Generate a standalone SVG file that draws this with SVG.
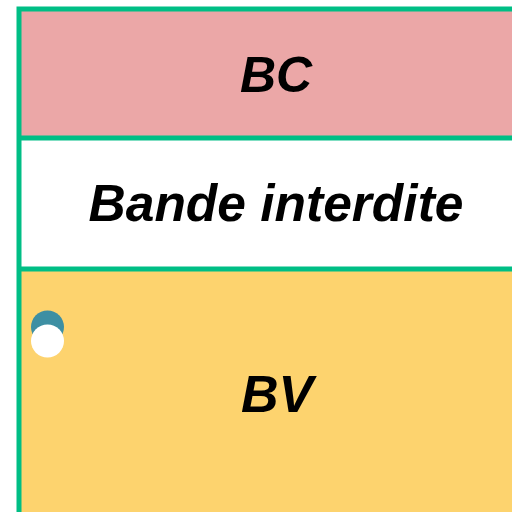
<svg xmlns="http://www.w3.org/2000/svg" width="512" height="512" viewBox="0 0 512 512">
<style>
.lbl{font-family:"Liberation Sans",Arial,sans-serif;font-weight:bold;font-style:italic;font-size:50px;fill:#000;text-anchor:middle}
.edge{stroke:#00BE85;stroke-width:5;fill:none}
</style>
<rect width="512" height="512" fill="#fff"/>
<g id="BC"><rect x="19" y="9" width="520" height="129" fill="#EBA7A7"/><text class="lbl" x="276" y="92">BC</text></g>
<g id="gap"><rect x="19" y="138" width="520" height="131" fill="#fff"/><text class="lbl" x="276" y="221" style="font-size:51.5px">Bande interdite</text></g>
<g id="BV"><rect x="19" y="269" width="520" height="260" fill="#FDD36E"/><text class="lbl" x="277" y="412" style="font-size:52px">BV</text></g>
<g id="lines">
<path class="edge" d="M19 529V9H540M19 138H540M19 269H540"/>
</g>
<g id="electron"><circle cx="47.5" cy="327" r="16.5" fill="#3D8FA3"/><circle cx="47.5" cy="341" r="16.5" fill="#fff"/></g>
</svg>
